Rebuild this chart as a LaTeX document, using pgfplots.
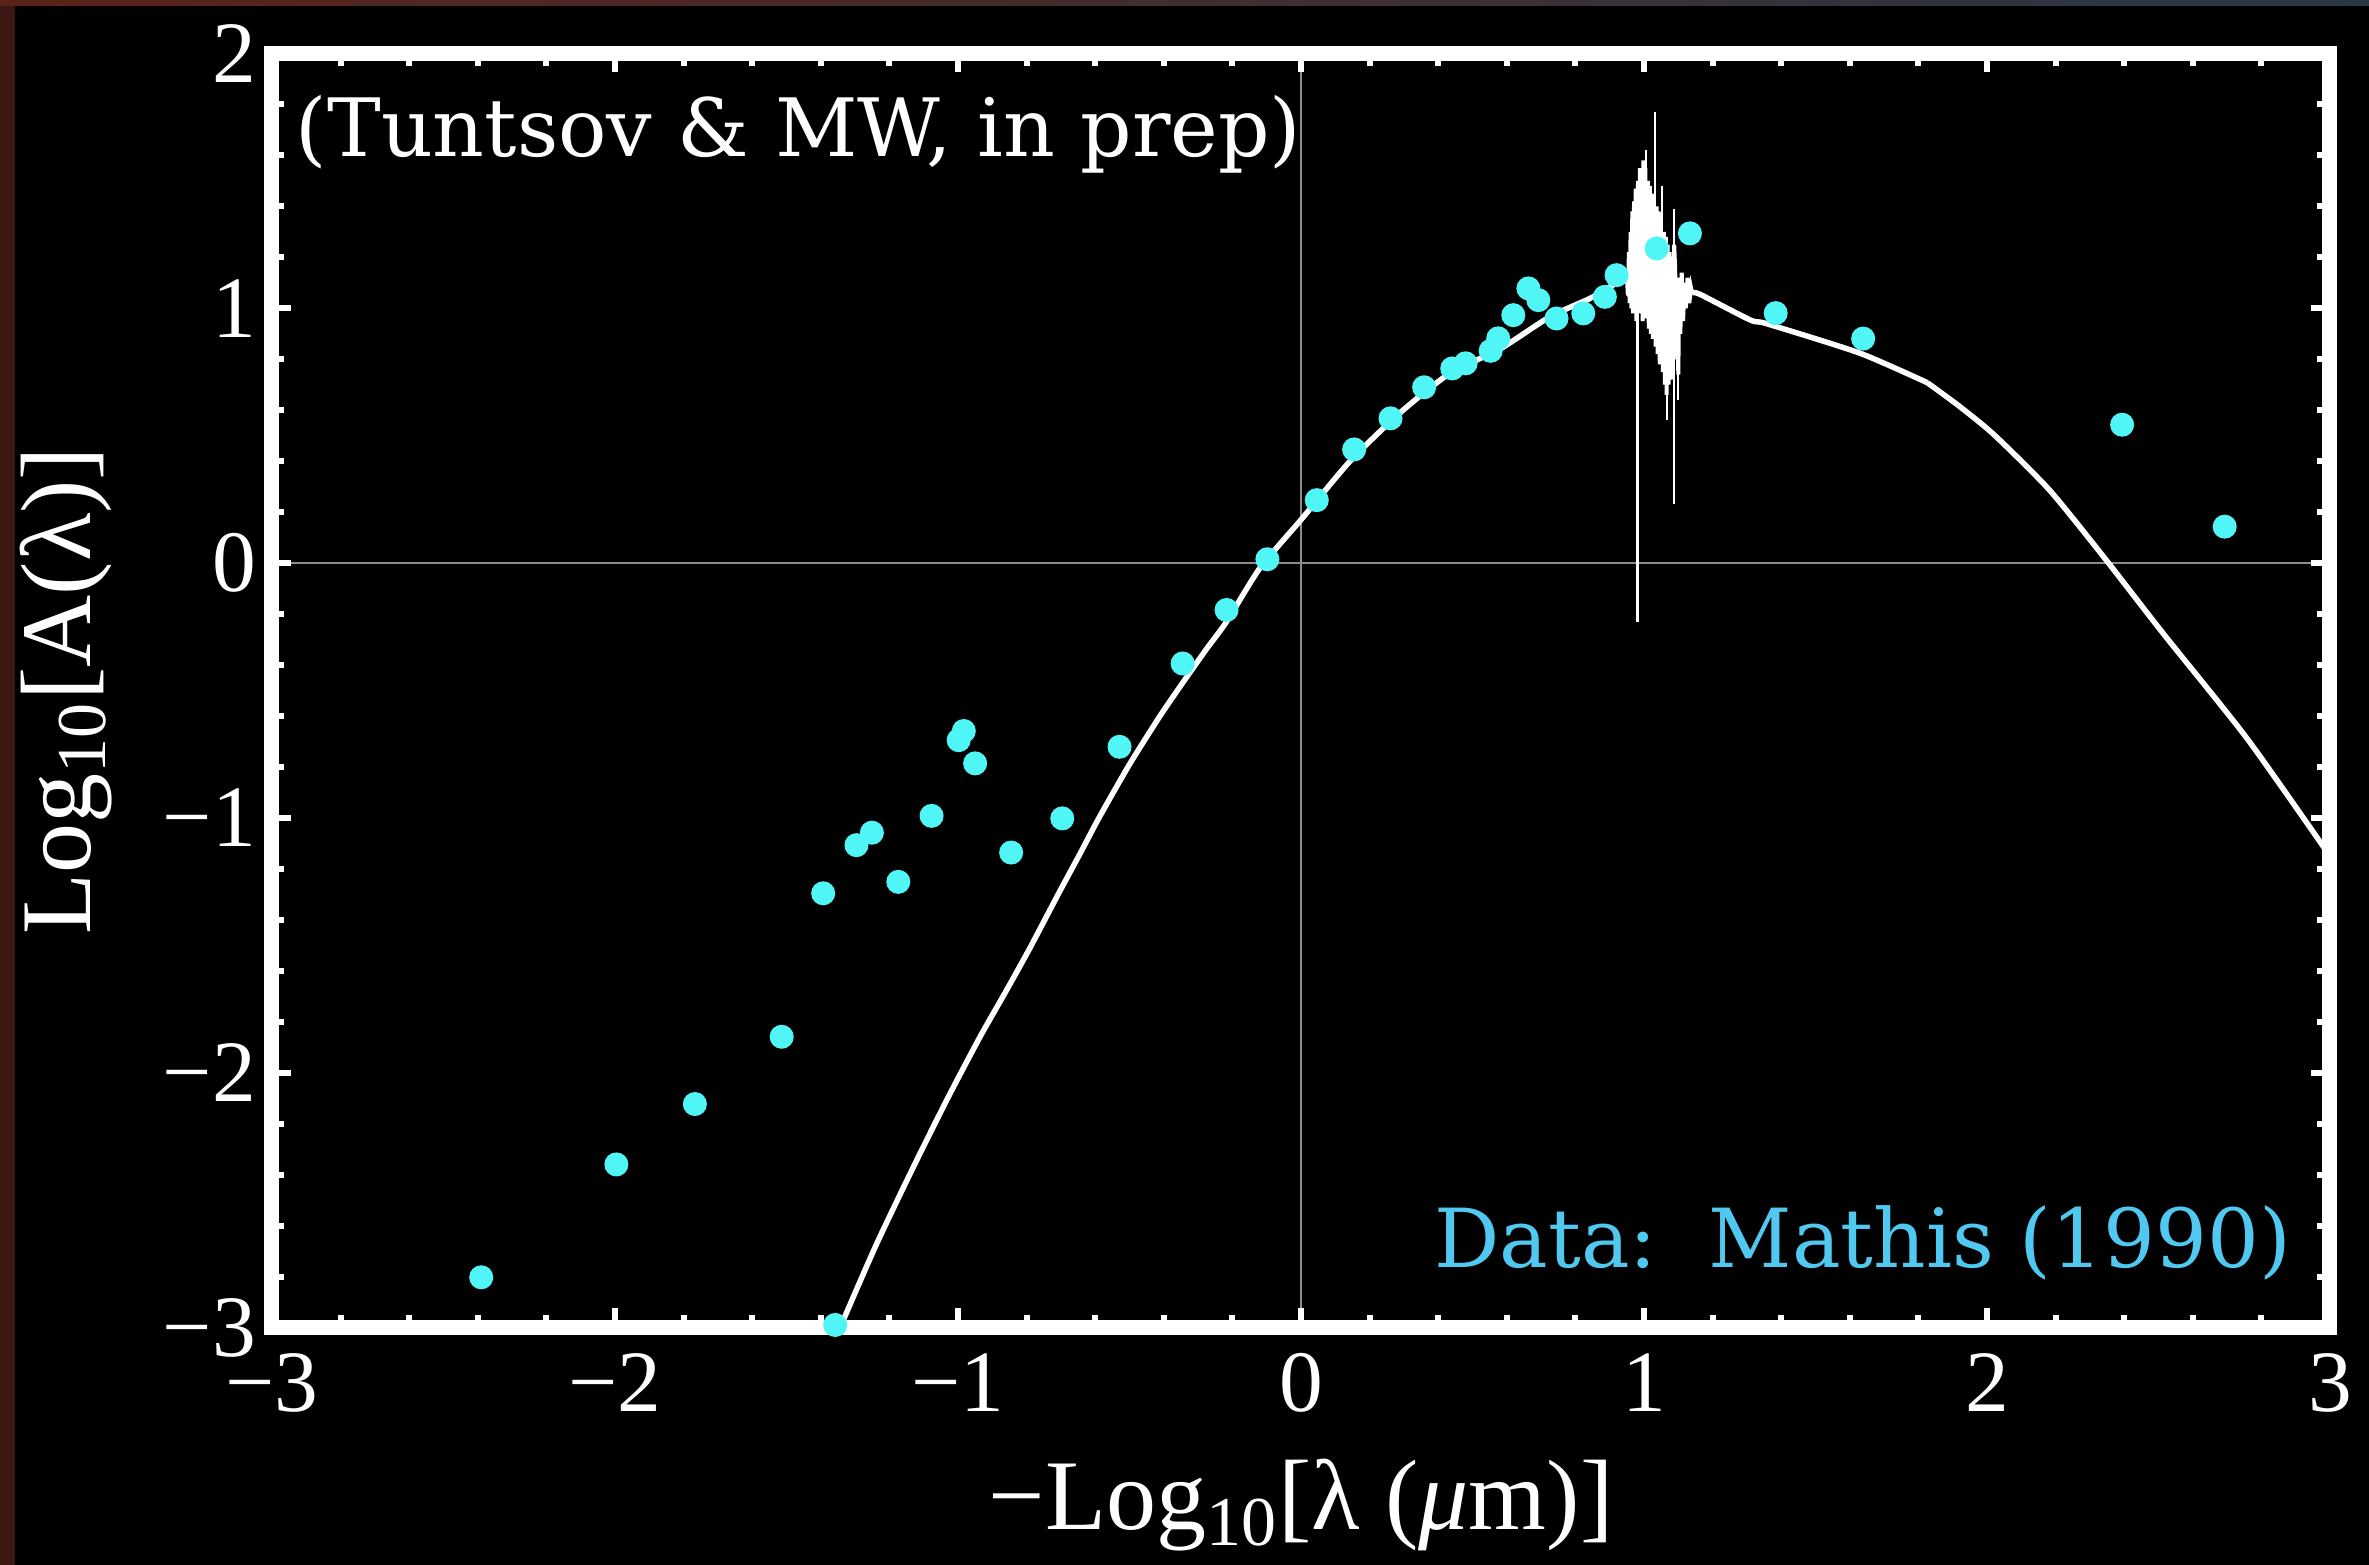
\documentclass[border=0pt]{standalone}
\usepackage{fontspec}
\setmainfont{Liberation Serif}
\newfontfamily\tw{DejaVu Serif}
\usepackage{pgfplots}
\pgfplotsset{compat=1.18}

\definecolor{dotcyan}{RGB}{80,245,245}
\definecolor{txtblue}{RGB}{80,200,240}
\definecolor{gridgray}{RGB}{140,140,140}
\definecolor{edgered}{RGB}{58,24,20}

\begin{document}
\begin{tikzpicture}
% slide background (picture frame)
\fill[black, use as bounding box] (-54.4pt,-47.5pt) rectangle (419.4pt,265.5pt);
\fill[edgered] (-54.4pt,-47.5pt) rectangle (-51.3pt,265.5pt);
\shade[left color={rgb,255:red,90;green,35;blue,25}, right color={rgb,255:red,40;green,55;blue,70}]
  (-54.4pt,264.3pt) rectangle (419.4pt,265.5pt);

\begin{axis}[
  at={(0pt,0pt)}, anchor=south west,
  scale only axis, width=411.6pt, height=254.8pt,
  xmin=-3, xmax=3, ymin=-3, ymax=2,
  axis on top,
  axis line style={white, line width=3pt},
  tick align=inside,
  xtick pos=both, ytick pos=both,
  xticklabel pos=lower, yticklabel pos=left,
  major tick length=3.8pt, minor tick length=2.5pt,
  tick style={white, line width=1.2pt},
  xtick={-3,...,3}, ytick={-3,...,2},
  minor x tick num=4, minor y tick num=4,
  xticklabels={−3,−2,−1,0,1,2,3},
  yticklabels={−3,−2,−1,0,1,2},
  ticklabel style={text=white, font=\fontsize{17.5}{20}\selectfont},
  xticklabel style={anchor=base, inner sep=0pt, yshift=-16.8pt},
  yticklabel style={anchor=east, inner sep=0pt, xshift=-3pt},
  xlabel={−Log\textsubscript{10}[λ (\textit{μ}m)]},
  ylabel={Log\textsubscript{10}[A(λ)]},
  label style={text=white, font=\fontsize{20}{24}\selectfont, inner sep=0pt},
  xlabel style={at={(rel axis cs:0.5,-0.1586)}, anchor=base},
  ylabel style={at={(rel axis cs:-0.0884,0.5)}, anchor=base},
  unbounded coords=jump,
]

% zero lines
\addplot[gridgray, line width=0.4pt] coordinates {(0,-3) (0,2)};
\addplot[gridgray, line width=0.4pt] coordinates {(-3,0) (3,0)};

% Mathis (1990) extinction data
\addplot[only marks, mark=*, mark size=2.2pt, color=dotcyan] coordinates {
(-2.390,-2.803) (-1.996,-2.360) (-1.767,-2.123) (-1.514,-1.859)
(-1.393,-1.296) (-1.296,-1.107) (-1.251,-1.058) (-1.174,-1.251)
(-1.077,-0.992) (-0.998,-0.695) (-0.983,-0.659) (-0.950,-0.786)
(-0.845,-1.136) (-0.696,-1.002) (-0.529,-0.721) (-0.345,-0.394)
(-0.217,-0.184) (-0.098,0.015) (0.046,0.247) (0.155,0.446)
(0.261,0.568) (0.359,0.690) (0.441,0.764) (0.480,0.784)
(0.553,0.833) (0.575,0.882) (0.619,0.973) (0.663,1.078)
(0.692,1.032) (0.745,0.960) (0.823,0.980) (0.886,1.045)
(0.920,1.130) (1.037,1.235) (1.134,1.294) (1.384,0.981)
(1.639,0.881) (2.394,0.543) (2.693,0.143) (-1.358,-2.990)
};

% model curve
\addplot[white, line width=1.1pt, smooth, tension=0.4] coordinates {
(-1.350,-3.02) (-1.240,-2.68) (-1.130,-2.37) (-1.030,-2.10)
(-0.936,-1.86) (-0.860,-1.68) (-0.790,-1.51) (-0.708,-1.30)
(-0.644,-1.14) (-0.589,-1.00) (-0.500,-0.79) (-0.411,-0.60)
(-0.345,-0.47) (-0.277,-0.34) (-0.217,-0.23) (-0.120,-0.02)
(0.000,0.17) (0.143,0.40) (0.289,0.59) (0.434,0.745)
(0.580,0.84) (0.726,0.967) (0.852,1.045) (0.955,1.13)
};
% noisy band around 10 microns
\addplot[white, line width=0.8pt] coordinates {
(0.950,1.13) (0.953,1.05) (0.956,1.22) (0.958,1.02) (0.961,1.30)
(0.963,1.00) (0.966,1.38) (0.968,0.98) (0.971,1.42) (0.973,1.00)
(0.976,1.47) (0.978,0.95) (0.981,1.45) (0.983,1.50)
(0.986,0.98) (0.988,1.55) (0.991,1.00) (0.993,1.52) (0.996,0.95)
(0.998,1.58) (1.001,0.98) (1.004,1.55) (1.008,0.96)
(1.011,1.50) (1.014,0.92) (1.017,1.48) (1.020,0.90) (1.023,1.45)
(1.026,0.88) (1.029,1.42) (1.034,0.85) (1.037,1.40)
(1.040,0.82) (1.043,1.38) (1.046,0.78) (1.049,1.35)
(1.055,0.75) (1.058,1.30) (1.061,0.70) (1.064,1.28) (1.066,0.66)
(1.069,1.25) (1.072,0.70) (1.075,1.22) (1.078,0.72) (1.081,1.20)
(1.084,0.75) (1.088,1.25) (1.091,1.15) (1.094,0.80)
(1.097,1.12) (1.100,0.74) (1.103,1.10) (1.106,0.90) (1.110,1.14)
(1.114,0.95) (1.118,1.10) (1.122,1.00) (1.127,1.12) (1.132,1.02)
(1.137,1.08) (1.140,1.06)
};
% long excursions
\addplot[white, line width=0.45pt] coordinates {
(0.981,1.00) (0.981,-0.23) (0.981,nan)
(1.006,1.40) (1.006,1.62) (1.006,nan)
(1.032,1.30) (1.032,1.77) (1.032,nan)
(1.052,1.30) (1.052,1.48) (1.052,nan)
(1.066,0.80) (1.066,0.56) (1.066,nan)
(1.088,1.39) (1.088,0.23) (1.088,nan)
(1.100,0.90) (1.100,0.64)
};
\addplot[white, line width=1.1pt, smooth, tension=0.4] coordinates {
(1.140,1.06) (1.163,1.055) (1.310,0.954) (1.359,0.939)
(1.629,0.824) (1.826,0.708)
};
\addplot[white, line width=1.1pt, smooth, tension=0.4] coordinates {
(1.826,0.708) (1.92,0.615) (2.022,0.502) (2.182,0.287)
(2.341,0.023) (2.513,-0.275) (2.758,-0.688) (3.000,-1.15)
};

\node[anchor=base west, inner sep=0pt, text=white, font=\tw\fontsize{16.1}{18}\selectfont,
  xshift=4.6pt, yshift=-20.7pt] at (rel axis cs:0,1) {(Tuntsov \& MW, in prep)};
\node[anchor=base east, inner sep=0pt, text=txtblue, font=\tw\fontsize{16.3}{18}\selectfont,
  xshift=-7.6pt, yshift=11.9pt] at (rel axis cs:1,0) {Data:\ \ Mathis (1990)};
\end{axis}
\end{tikzpicture}
\end{document}
